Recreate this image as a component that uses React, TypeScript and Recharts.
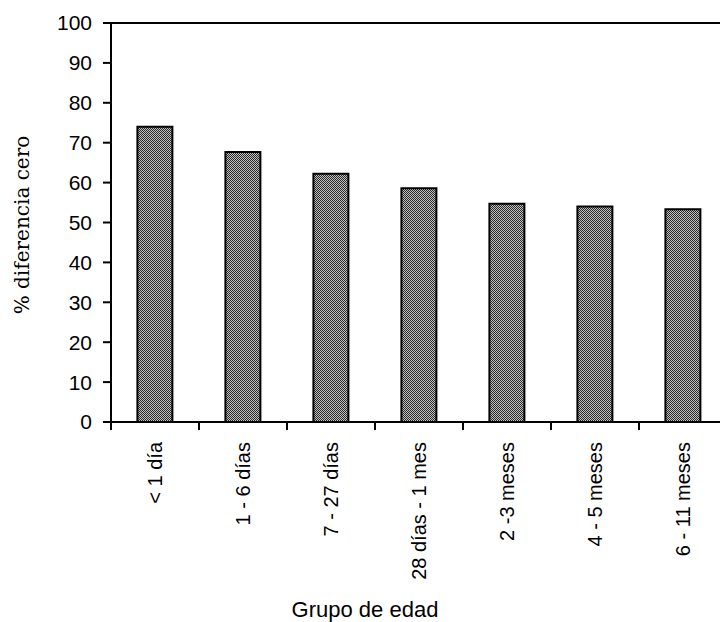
import { BarChart, Bar, XAxis, YAxis, ReferenceLine } from "recharts"

// Grupo de edad vs % diferencia cero
const ageGroups = [
  "< 1 día",
  "1 - 6 días",
  "7 - 27 días",
  "28 días - 1 mes",
  "2 -3 meses",
  "4 - 5 meses",
  "6 - 11 meses",
]
const pctZero = [74, 67.7, 62.2, 58.6, 54.7, 54.0, 53.3]
const yTicks = [0, 10, 20, 30, 40, 50, 60, 70, 80, 90, 100]

const data = ageGroups.map((group, i) => ({ group, value: pctZero[i] }))

const SANS = "Liberation Sans"
const SERIF = "DejaVu Serif"

// tick marks sit on the category boundaries, labels rotated under the bar
const AgeTick = (props: any) => {
  const { x, y, payload } = props
  const off = payload && payload.offset != null ? payload.offset : 44
  return (
    <g>
      <line x1={x - off} y1={y} x2={x - off} y2={y + 8} stroke="#000" strokeWidth={2} />
      <text
        x={x}
        y={y + 20}
        transform={`rotate(-90, ${x}, ${y + 20})`}
        textAnchor="end"
        dominantBaseline="central"
        fontFamily={SANS}
        fontSize={20}
        fill="#000"
      >
        {payload.value}
      </text>
    </g>
  )
}

export default function App() {
  return (
    <div
      style={{
        position: "absolute",
        left: 0,
        top: 0,
        width: 720,
        height: 622,
        overflow: "hidden",
        background: "#fff",
      }}
    >
      <BarChart
        width={727}
        height={622}
        data={data}
        margin={{ top: 23, right: 0, bottom: 0, left: 0 }}
        barCategoryGap="30%"
      >
        <defs>
          <pattern id="stipple" width="2" height="2" patternUnits="userSpaceOnUse">
            <rect width="2" height="2" fill="#c0c0c0" />
            <rect width="1" height="1" fill="#2a2a2a" />
            <rect x="1" y="1" width="1" height="1" fill="#2a2a2a" />
          </pattern>
        </defs>
        <XAxis
          dataKey="group"
          height={200}
          tickSize={0}
          tickMargin={0}
          tickLine={false}
          interval={0}
          axisLine={{ stroke: "#000", strokeWidth: 2 }}
          tick={<AgeTick />}
          label={{
            value: "Grupo de edad",
            position: "insideBottom",
            offset: 5,
            dx: -54,
            fontFamily: SANS,
            fontSize: 22,
            fill: "#000",
          }}
        />
        <YAxis
          width={111}
          domain={[0, 100]}
          ticks={yTicks}
          interval={0}
          tickSize={8}
          tickMargin={11}
          axisLine={{ stroke: "#000", strokeWidth: 2 }}
          tickLine={{ stroke: "#000", strokeWidth: 2 }}
          tick={{ fontFamily: SANS, fontSize: 21, fill: "#000" }}
        />
        <ReferenceLine y={100} stroke="#000" strokeWidth={2} />
        <Bar
          dataKey="value"
          fill="url(#stipple)"
          stroke="#000"
          strokeWidth={2}
          isAnimationActive={false}
        />
        <text
          x={22}
          y={225}
          transform="rotate(-90, 22, 225)"
          textAnchor="middle"
          dominantBaseline="central"
          style={{ fontFamily: SERIF, fontSize: 20 }}
          fill="#000"
        >
          % diferencia cero
        </text>
      </BarChart>
    </div>
  )
}
